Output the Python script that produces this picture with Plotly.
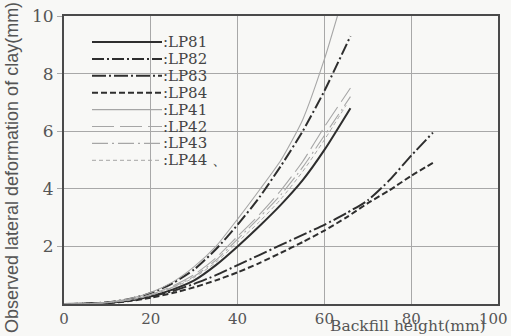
import plotly.graph_objects as go

# ---- data ----
series_names = ["LP81", "LP82", "LP83", "LP84", "LP41", "LP42", "LP43", "LP44"]

x_short = [0, 5, 10, 15, 20, 25, 30, 35, 40, 45, 50, 55, 60, 66]
x_lp41 = [0, 5, 10, 15, 20, 25, 30, 35, 40, 45, 50, 55, 60, 63]
x_lp44 = [0, 5, 10, 15, 20, 25, 30, 35, 40, 45, 50, 55, 60, 65]
x_long = [0, 5, 10, 15, 20, 25, 30, 35, 40, 45, 50, 55, 60, 65, 70, 75, 80, 85]

y_lp81 = [0, 0.01, 0.04, 0.12, 0.27, 0.5, 0.82, 1.35, 2.0, 2.7, 3.45, 4.3, 5.35, 6.8]
y_lp82 = [0, 0.01, 0.06, 0.17, 0.38, 0.72, 1.2, 1.9, 2.75, 3.7, 4.8, 6.0, 7.4, 9.3]
y_lp83 = [0, 0.01, 0.04, 0.12, 0.26, 0.45, 0.7, 1.0, 1.35, 1.7, 2.05, 2.4, 2.75, 3.15, 3.6, 4.3, 5.15, 5.95]
y_lp84 = [0, 0.01, 0.03, 0.1, 0.22, 0.38, 0.58, 0.82, 1.1, 1.42, 1.78, 2.15, 2.55, 3.0, 3.5, 3.95, 4.45, 4.9]
y_lp41 = [0, 0.01, 0.06, 0.18, 0.4, 0.76, 1.3, 2.0, 2.95, 3.95, 5.0, 6.4, 8.5, 10.0]
y_lp42 = [0, 0.01, 0.05, 0.15, 0.33, 0.62, 1.02, 1.6, 2.35, 3.1, 3.95, 4.95, 6.15, 7.5]
y_lp43 = [0, 0.01, 0.05, 0.14, 0.31, 0.58, 0.96, 1.52, 2.25, 3.0, 3.8, 4.75, 5.85, 7.2]
y_lp44 = [0, 0.01, 0.05, 0.13, 0.3, 0.56, 0.92, 1.45, 2.15, 2.85, 3.65, 4.6, 5.7, 6.9]

x_ticks = [0, 20, 40, 60, 80, 100]
x_tick_labels = ["0", "20", "40", "60", "80", "100\u2007"]
y_ticks = [2, 4, 6, 8, 10]

# ---- styles ----
SERIF = "DejaVu Serif"
SANS = "Liberation Sans"
dark = "#2e2e2e"
light = "#a6a6a6"
styles = {
    "LP81": dict(color=dark, width=2.0, dash="solid"),
    "LP82": dict(color=dark, width=2.0, dash="12px,3px,2px,3px"),
    "LP83": dict(color=dark, width=2.0, dash="14px,3px,2px,3px"),
    "LP84": dict(color=dark, width=2.0, dash="6px,3px"),
    "LP41": dict(color=light, width=1.1, dash="solid"),
    "LP42": dict(color=light, width=1.1, dash="22px,6px"),
    "LP43": dict(color=light, width=1.1, dash="16px,4px,2px,4px"),
    "LP44": dict(color=light, width=1.0, dash="4px,3px"),
}
data = {
    "LP81": (x_short, y_lp81),
    "LP82": (x_short, y_lp82),
    "LP83": (x_long, y_lp83),
    "LP84": (x_long, y_lp84),
    "LP41": (x_lp41, y_lp41),
    "LP42": (x_short, y_lp42),
    "LP43": (x_short, y_lp43),
    "LP44": (x_lp44, y_lp44),
}

W, H = 511, 336
ML, MR, MT, MB = 64, 13, 16, 32
PW, PH = W - ML - MR, H - MT - MB


def px2x(px):
    return (px - ML) / PW


def py2y(py):
    return (H - MB - py) / PH


fig = go.Figure()
for name in series_names:
    xs, ys = data[name]
    fig.add_trace(go.Scatter(x=xs, y=ys, mode="lines", name=name,
                             line=dict(shape="spline", smoothing=0.6, **styles[name]),
                             showlegend=False, cliponaxis=True))

shapes = []
annotations = []
shapes.append(dict(type="rect", xref="paper", yref="paper",
                   x0=px2x(66), x1=px2x(220), y0=py2y(180), y1=py2y(26),
                   fillcolor="#f8f8f6", line=dict(width=0), layer="between"))
row0, step = 42, 16.9
for i, name in enumerate(series_names):
    yy = py2y(row0 + step * i)
    st = styles[name]
    shapes.append(dict(type="line", xref="paper", yref="paper",
                       x0=px2x(92), x1=px2x(162), y0=yy, y1=yy,
                       line=dict(color=st["color"], width=st["width"], dash=st["dash"]),
                       layer="above"))
    label = ":" + name + (" 、" if name == "LP44" else "")
    annotations.append(dict(xref="paper", yref="paper", x=px2x(161), y=yy,
                            text=label, showarrow=False, xanchor="left", yanchor="middle",
                            font=dict(family=SERIF, size=15, color="#444")))

annotations.append(dict(xref="paper", yref="paper", x=px2x(408), y=py2y(326),
                        text="Backfill height(mm)", showarrow=False,
                        xanchor="center", yanchor="middle",
                        font=dict(family=SERIF, size=15.5, color="#555")))
annotations.append(dict(xref="paper", yref="paper", x=px2x(12), y=py2y(168),
                        text="Observed lateral deformation of clay(mm)", showarrow=False,
                        textangle=-90, xanchor="center", yanchor="middle",
                        font=dict(family=SANS, size=18, color="#555")))

axis_common = dict(showline=True, linecolor="#4a4a4a", linewidth=2, mirror=True,
                   showgrid=True, gridcolor="#a8a8a8", gridwidth=1,
                   tickcolor="#a8a8a8", zeroline=False, automargin=False)

fig.update_layout(
    width=W, height=H,
    margin=dict(l=ML, r=MR, t=MT, b=MB, autoexpand=False),
    paper_bgcolor="#f8f8f6", plot_bgcolor="#f8f8f6",
    shapes=shapes, annotations=annotations,
    xaxis=dict(range=[0, 100], tickvals=x_ticks, ticktext=x_tick_labels,
               ticks="", ticklen=0, ticklabeloverflow="allow",
               tickfont=dict(family=SERIF, size=15, color="#555"), **axis_common),
    yaxis=dict(range=[0, 10], tickvals=y_ticks, ticks="outside", ticklen=5,
               tickfont=dict(family=SERIF, size=17, color="#555"), **axis_common),
)

fig.write_html("out.html")
